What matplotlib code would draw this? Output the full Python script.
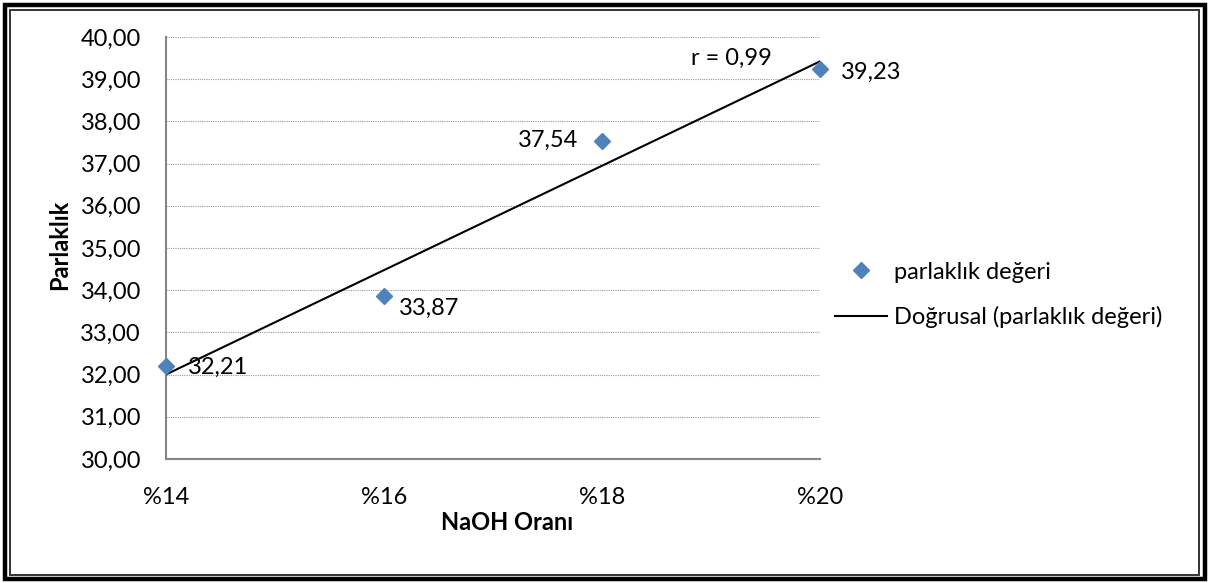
import numpy as np
import matplotlib
matplotlib.use("Agg")
import matplotlib.pyplot as plt
from matplotlib.lines import Line2D
from matplotlib.patches import Rectangle

# --- data ---
categories = ["%14", "%16", "%18", "%20"]
brightness = [32.21, 33.87, 37.54, 39.23]
y_ticks = [30, 31, 32, 33, 34, 35, 36, 37, 38, 39, 40]
r_text = "r = 0,99"
series_name = "parlaklık değeri"
trend_name = "Doğrusal (parlaklık değeri)"

W, H = 1209, 583
FS = 17
plt.rcParams['font.family'] = ['Lato', 'DejaVu Sans']

fig = plt.figure(figsize=(W / 100, H / 100), dpi=100)
fig.patch.set_facecolor("white")

def fx(x):
    return x / W

def fy(y):
    return 1 - y / H

# plot area in pixel bounds
L, R, T, B = 166, 820, 37, 459
ax = fig.add_axes([fx(L), fy(B), fx(R - L), (B - T) / H])

xpos = np.arange(len(categories))
blue = "#4F81BD"

# linear trend line over category positions
coef = np.polyfit(xpos + 1, brightness, 1)
trend = np.polyval(coef, xpos + 1)
ax.plot(xpos, trend, color="black", lw=1.5, zorder=3)
ax.plot(xpos, brightness, linestyle="none", marker="D", markersize=8,
        color=blue, markeredgecolor=blue, zorder=4, clip_on=False)

ax.set_xlim(0, len(categories) - 1)
ax.set_ylim(y_ticks[0], y_ticks[-1])
ax.set_yticks(y_ticks)
ax.set_yticklabels([f"{v:.2f}".replace(".", ",") for v in y_ticks])
ax.set_xticks(xpos)
ax.set_xticklabels(categories)
ax.tick_params(axis="both", length=0, labelsize=FS, colors="black")
ax.tick_params(axis="y", pad=18)
ax.tick_params(axis="x", pad=20)

ax.grid(axis="y", linestyle=(0, (1, 1)), color="#9A9A9A", lw=0.8)
ax.set_axisbelow(True)
for s in ("top", "right"):
    ax.spines[s].set_visible(False)
for s in ("left", "bottom"):
    ax.spines[s].set_color("#868686")
    ax.spines[s].set_linewidth(1.5)

# data labels
offsets = [(16, -1, "left"), (11, -9, "left"), (-17, 0, "right"), (15, -2, "left")]
for i, v in enumerate(brightness):
    dx, dy, ha = offsets[i]
    ax.annotate(f"{v:.2f}".replace(".", ","), (xpos[i], v),
                xytext=(dx, dy), textcoords="offset points",
                ha=ha, va="center", fontsize=FS, zorder=5)

fig.text(fx(731), fy(58), r_text, ha="center", va="center", fontsize=FS)

fig.text(fx(60), fy(245), "Parlaklık", rotation=90, ha="center", va="center",
         fontsize=FS, fontweight="bold")
fig.text(fx(507), fy(523), "NaOH Oranı", ha="center", va="center",
         fontsize=FS, fontweight="bold")

# legend
handles = [
    Line2D([], [], linestyle="none", marker="D", markersize=8, color=blue),
    Line2D([], [], color="black", lw=1.5),
]
fig.legend(handles, [series_name, trend_name], loc="center left",
           bbox_to_anchor=(fx(826), fy(295)), frameon=False, fontsize=FS,
           handlelength=2.2, handletextpad=0.3, labelspacing=1.0,
           borderaxespad=0)

# double border around the figure
fig.add_artist(Rectangle((fx(5), fy(579)), fx(1200), (579 - 5) / H,
                         transform=fig.transFigure, fill=False,
                         edgecolor="black", lw=3.2))
fig.add_artist(Rectangle((fx(10), fy(575)), fx(1189), (575 - 10) / H,
                         transform=fig.transFigure, fill=False,
                         edgecolor="#333333", lw=1.4))

fig.savefig("out.png", dpi=100, facecolor="white")
